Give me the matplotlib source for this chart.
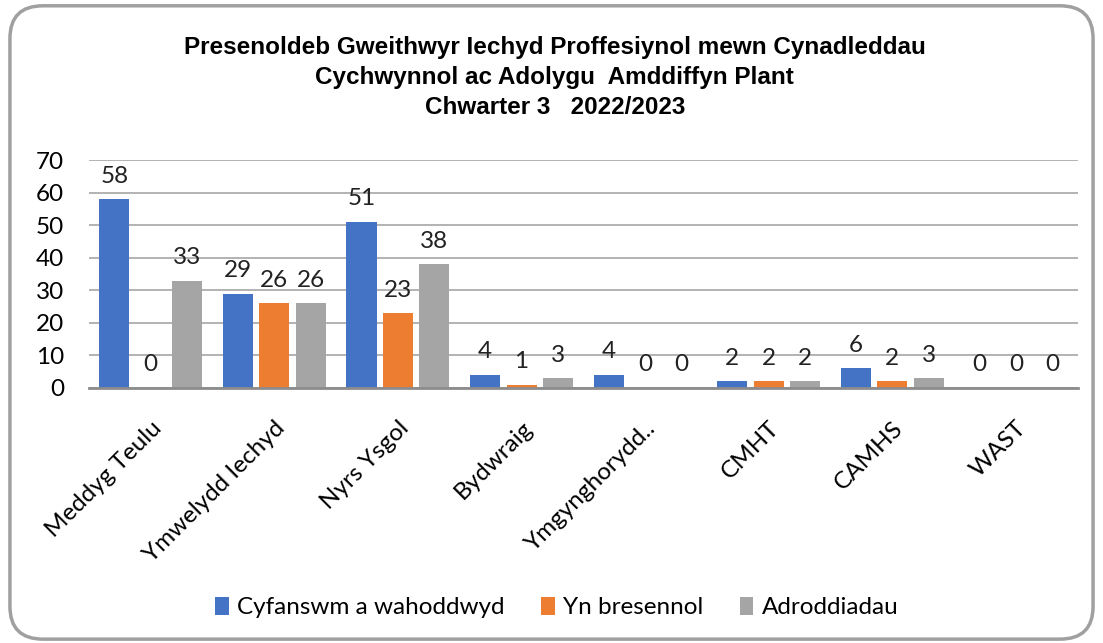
import numpy as np
import matplotlib.pyplot as plt
from matplotlib.patches import FancyBboxPatch
from matplotlib import font_manager

# chart data
categories = ["Meddyg Teulu", "Ymwelydd Iechyd", "Nyrs Ysgol", "Bydwraig",
              "Ymgynghorydd..", "CMHT", "CAMHS", "WAST"]
invited = [58, 29, 51, 4, 4, 2, 6, 0]
attended = [0, 26, 23, 1, 0, 2, 2, 0]
reports = [33, 26, 38, 3, 0, 2, 3, 0]
series_names = ["Cyfanswm a wahoddwyd", "Yn bresennol", "Adroddiadau"]
colors = ["#4472C4", "#ED7D31", "#A5A5A5"]

title = ("Presenoldeb Gweithwyr Iechyd Proffesiynol mewn Cynadleddau\n"
         "Cychwynnol ac Adolygu  Amddiffyn Plant\n"
         "Chwarter 3   2022/2023")

names = {f.name for f in font_manager.fontManager.ttflist}
body_font = "Lato" if "Lato" in names else "DejaVu Sans"
plt.rcParams['font.family'] = [body_font, 'DejaVu Sans']

fig = plt.figure(figsize=(11.03, 6.43), dpi=100)

# rounded outer frame
frame = FancyBboxPatch((0.009, 0.006), 0.982, 0.985, boxstyle="round,pad=0,rounding_size=0.03",
                       transform=fig.transFigure, facecolor="none", edgecolor="#a0a0a0",
                       linewidth=2.5, mutation_aspect=1.7, zorder=-1)
fig.patches.append(frame)

ax = fig.add_axes([0.0807, 0.3966, 0.8963, 0.3544])
ax.set_facecolor("none")

x = np.arange(len(categories))
width = 0.243
pitch = 0.295
all_series = [invited, attended, reports]
for i, vals in enumerate(all_series):
    pos = x + (i - 1) * pitch
    ax.bar(pos, vals, width, color=colors[i], label=series_names[i], zorder=3)
    for xp, v in zip(pos, vals):
        ax.annotate(str(v), (xp, v), xytext=(0, 9), textcoords="offset points",
                    ha="center", va="bottom", fontsize=17.5, color="#222222")

ax.set_xlim(-0.5, len(categories) - 0.5)
ax.set_ylim(0, 70)
ax.set_yticks(range(0, 71, 10))
ax.yaxis.grid(True, color="#a6a6a6", linewidth=1.2, zorder=0)
ax.tick_params(axis="y", length=0, labelsize=17.5, pad=18)
ax.tick_params(axis="x", length=0, labelsize=17.5, pad=21)
ax.set_xticks(x)
ax.set_xticklabels(categories, rotation=45, ha="right", rotation_mode="anchor")
for s in ["top", "right", "left"]:
    ax.spines[s].set_visible(False)
ax.spines["bottom"].set_color("#8c8c8c")
ax.spines["bottom"].set_linewidth(2)
ax.spines["bottom"].set_zorder(4)

fig.text(0.503, 0.88, title, ha="center", va="center", fontsize=17.5, fontweight="bold",
         family=["Liberation Sans", "DejaVu Sans"], linespacing=1.38)

fig.legend(loc="center", bbox_to_anchor=(0.505, 0.055), ncol=3, frameon=False,
           fontsize=17.5, handlelength=0.55, handleheight=0.75, handletextpad=0.35,
           columnspacing=1.5)

fig.savefig("out.png", dpi=100)
